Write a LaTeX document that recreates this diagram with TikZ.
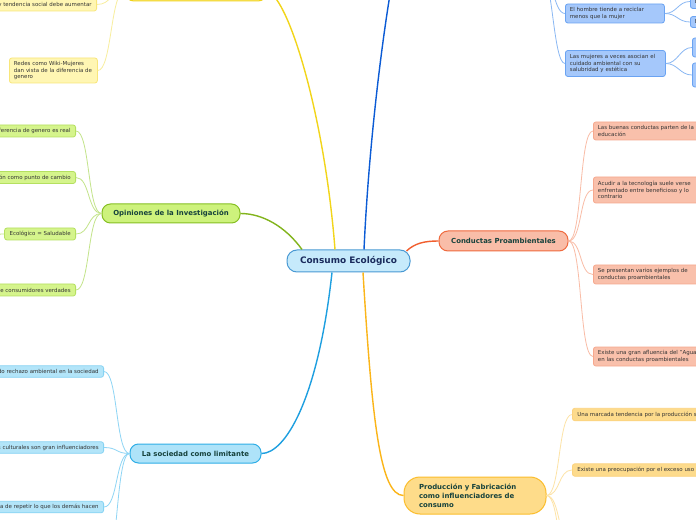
\documentclass[tikz,border=0pt]{standalone}
\usepackage{fontspec}
\setmainfont{DejaVu Sans}
\newdimen\pxu \pxu=0.75pt
\newcommand\kidfont{\fontsize{4.1}{4.75}\selectfont}
\newcommand\mainfont{\fontsize{5.2}{6.5}\selectfont\bfseries}
\newcommand\ctrfont{\fontsize{6.7}{8}\selectfont\bfseries}
\definecolor{kidtext}{HTML}{333333}
\definecolor{maintext}{HTML}{16423C}
\definecolor{ctrtext}{HTML}{1A2B5C}
\definecolor{ctrfill}{HTML}{C6EAFB}\definecolor{ctrdraw}{HTML}{4A9AD4}
\definecolor{gmfill}{HTML}{CDF27C}\definecolor{gmdraw}{HTML}{86BF22}
\definecolor{gkfill}{HTML}{D5F48C}\definecolor{gkdraw}{HTML}{B5E060}
\definecolor{gthick}{HTML}{82B41C}\definecolor{gthinc}{HTML}{C3E48A}
\definecolor{smfill}{HTML}{AEE3F9}\definecolor{smdraw}{HTML}{2FAEE6}
\definecolor{skfill}{HTML}{B3E5F9}\definecolor{skdraw}{HTML}{86D3F3}
\definecolor{sthick}{HTML}{1E9FE0}\definecolor{sthinc}{HTML}{8ED5F5}
\definecolor{bkfill}{HTML}{A5C8FB}\definecolor{bkdraw}{HTML}{6AA3F2}
\definecolor{bthick}{HTML}{0B5BD5}\definecolor{bthinc}{HTML}{8AB8F3}
\definecolor{cmfill}{HTML}{F9BDA8}\definecolor{cmdraw}{HTML}{EF6A3E}
\definecolor{ckfill}{HTML}{F9C0AB}\definecolor{ckdraw}{HTML}{F6A88E}
\definecolor{cthick}{HTML}{F15E2E}\definecolor{cthinc}{HTML}{F9BCA6}
\definecolor{pmfill}{HTML}{FEDC8A}\definecolor{pmdraw}{HTML}{FBBD2C}
\definecolor{pkfill}{HTML}{FDDB8C}\definecolor{pkdraw}{HTML}{FCD27E}
\definecolor{pthick}{HTML}{FBB518}\definecolor{pthinc}{HTML}{FDE3A6}
\definecolor{ymfill}{HTML}{FFF09A}\definecolor{ymdraw}{HTML}{F0D21A}
\definecolor{ykfill}{HTML}{FFF6B3}\definecolor{ykdraw}{HTML}{F8E67A}
\definecolor{ythick}{HTML}{F2D51A}\definecolor{ythinc}{HTML}{F8EE9E}
\tikzset{
  kid/.style={draw, rounded corners=2.5\pxu, line width=0.8\pxu, font=\kidfont,
    align=left, inner xsep=4.5\pxu, inner ysep=0pt, text=kidtext},
  kidline/.style={draw, rounded corners=2.5\pxu, line width=0.8\pxu, font=\kidfont,
    inner xsep=5\pxu, inner ysep=0pt, text=kidtext},
  mainbox/.style={draw, line width=1\pxu, font=\mainfont, text=maintext,
    inner sep=0pt, align=center},
  thick line/.style={line width=1.4\pxu},
  thin line/.style={line width=0.8\pxu},
}
\begin{document}
\begin{tikzpicture}[x=0.75pt,y=-0.75pt]
\useasboundingbox (0,0) rectangle (696,520);
\clip (0,0) rectangle (696,520);
\fill[white] (0,0) rectangle (696,520);

% ---------- main topics ----------
\node[mainbox, font=\ctrfont, text=ctrtext, fill=ctrfill, draw=ctrdraw,
  minimum width=123\pxu, minimum height=22\pxu, rounded corners=10\pxu] (ctr) at (348.5,261) {Consumo Ecológico};
\node[mainbox, fill=gmfill, draw=gmdraw, minimum width=138\pxu, minimum height=19\pxu,
  rounded corners=8.5\pxu] (gm) at (171,213.5) {Opiniones de la Investigación};
\node[mainbox, fill=smfill, draw=smdraw, minimum width=131\pxu, minimum height=19\pxu,
  rounded corners=8.5\pxu] (sm) at (195.5,453.5) {La sociedad como limitante};
\node[mainbox, fill=cmfill, draw=cmdraw, minimum width=129\pxu, minimum height=20\pxu,
  rounded corners=9\pxu] (cm) at (503.5,241) {Conductas Proambientales};
\node[mainbox, fill=pmfill, draw=pmdraw, minimum height=37\pxu, text width=112\pxu,
  inner xsep=15\pxu, align=left, rounded corners=16\pxu, font=\fontsize{5.2}{6.6}\selectfont\bfseries]
  (pm) at (475,495.5) {Producción y Fabricación\\como influenciadores de\\consumo};
\node[mainbox, fill=ymfill, draw=ymdraw, minimum width=142\pxu, minimum height=20\pxu,
  rounded corners=9\pxu] (ym) at (196,-9) {};
\node[mainbox, fill=bkfill, draw=bkdraw, minimum width=145\pxu, minimum height=20\pxu,
  rounded corners=9\pxu] (bm) at (467.5,-30) {};

% ---------- thick connectors ----------
\draw[thick line, ythick] (ctr.north) ++(-13.5,0) coordinate (cy) .. controls (325,120) and (290,0) .. (ym.east);
\draw[thick line, bthick] (ctr.north) ++(15.5,0) coordinate (cb) .. controls (370,120) and (388,0) .. (bm.west);
\draw[thick line, gthick] (ctr.north) ++(-46.5,0) coordinate (cg) .. controls (285,226) and (262,213.5) .. (gm.east);
\draw[thick line, cthick] (ctr.north east) ++(-4,1.5) coordinate (cc) .. controls (415,243) and (425,241) .. (cm.west);
\draw[thick line, sthick] (ctr.south) ++(-16.5,0) coordinate (cs) .. controls (318,400) and (285,453.5) .. (sm.east);
\draw[thick line, pthick] (ctr.south) ++(14.5,0) coordinate (cp) .. controls (372,420) and (380,495.5) .. (pm.west);

% ---------- yellow children ----------
\node[kidline, fill=ykfill, draw=ykdraw, minimum height=13\pxu, anchor=east] (y1) at (97,4.5) {y tendencia social debe aumentar};
\node[kid, fill=ykfill, draw=ykdraw, minimum height=25\pxu, text width=79\pxu, anchor=west] (y2) at (9,70.5) {Redes como Wiki-Mujeres\\dan vista de la diferencia de\\genero};
\foreach \k in {y1,y2}
  \draw[thin line, ythinc] (ym.west) .. controls +(-14,0) and +(14,0) .. (\k.east);

% ---------- green children ----------
\node[kidline, fill=gkfill, draw=gkdraw, minimum height=12\pxu, anchor=east] (g1) at (76,131) {ferencia de genero es real};
\node[kidline, fill=gkfill, draw=gkdraw, minimum height=12\pxu, anchor=east] (g2) at (76,177.5) {ón como punto de cambio};
\node[kidline, fill=gkfill, draw=gkdraw, minimum height=12\pxu, anchor=east] (g3) at (76,234) {Ecológico = Saludable};
\node[kidline, fill=gkfill, draw=gkdraw, minimum height=12\pxu, anchor=east] (g4) at (76,290) {de consumidores verdades};
\foreach \k in {g1,g2,g3,g4}
  \draw[thin line, gthinc] (gm.west) .. controls +(-14,0) and +(14,0) .. (\k.east);
\coordinate (g3k) at (-20,236);
\draw[thin line, gthinc] (g3.west) .. controls +(-8,0) and +(8,0) .. (g3k);

% ---------- sociedad children ----------
\node[kidline, fill=skfill, draw=skdraw, minimum height=11.5\pxu, anchor=east] (s1) at (104,371.5) {do rechazo ambiental en la sociedad};
\node[kidline, fill=skfill, draw=skdraw, minimum height=11.5\pxu, anchor=east] (s2) at (104,447.5) {s culturales son gran influenciadores};
\node[kidline, fill=skfill, draw=skdraw, minimum height=11.5\pxu, anchor=east] (s3) at (104,507) {ua de repetir lo que los demás hacen};
\coordinate (s4) at (104,575);
\foreach \k in {s1,s2,s3}
  \draw[thin line, sthinc] (sm.west) .. controls +(-14,0) and +(14,0) .. (\k.east);
\draw[thin line, sthinc] (sm.west) .. controls +(-14,0) and +(14,0) .. (s4);

% ---------- dark blue children ----------
\node[kid, fill=bkfill, draw=bkdraw, minimum height=19\pxu, text width=90\pxu, anchor=west] (b1) at (565,13.5) {El hombre tiende a reciclar\\menos que la mujer};
\node[kid, fill=bkfill, draw=bkdraw, minimum height=26\pxu, text width=91\pxu, anchor=west] (b2) at (565,63.5) {Las mujeres a veces asocian el\\cuidado ambiental con su\\salubridad y estética};
\foreach \k in {b1,b2}
  \draw[thin line, bthinc] (bm.east) .. controls +(12,0) and +(-12,0) .. (\k.west);
\node[kid, fill=bkfill, draw=bkdraw, minimum height=14\pxu, text width=30\pxu, anchor=west] (b1a) at (690,1.5) {E};
\node[kid, fill=bkfill, draw=bkdraw, minimum height=11\pxu, text width=30\pxu, anchor=west] (b1b) at (690,22) {E};
\node[kid, fill=bkfill, draw=bkdraw, minimum height=19\pxu, text width=30\pxu, anchor=west] (b2a) at (692,47.5) {};
\node[kid, fill=bkfill, draw=bkdraw, minimum height=24\pxu, text width=30\pxu, anchor=west] (b2b) at (692,75) {};
\foreach \k in {b1a,b1b}
  \draw[thin line, bthinc] (b1.east) .. controls +(12,0) and +(-12,0) .. (\k.west);
\foreach \k in {b2a,b2b}
  \draw[thin line, bthinc] (b2.east) .. controls +(12,0) and +(-12,0) .. (\k.west);

% ---------- conductas children ----------
\node[kid, fill=ckfill, draw=ckdraw, minimum height=18\pxu, text width=110\pxu, anchor=west] (c1) at (593,131) {Las buenas conductas parten de la\\educación};
\node[kid, fill=ckfill, draw=ckdraw, minimum height=26\pxu, text width=110\pxu, anchor=west] (c2) at (593,190) {Acudir a la tecnología suele verse\\enfrentado entre beneficioso y lo\\contrario};
\node[kid, fill=ckfill, draw=ckdraw, minimum height=19\pxu, text width=110\pxu, anchor=west] (c3) at (593,274.5) {Se presentan varios ejemplos de\\conductas proambientales};
\node[kid, fill=ckfill, draw=ckdraw, minimum height=19\pxu, text width=110\pxu, anchor=west] (c4) at (593,356.5) {Existe una gran afluencia del "Agua\\en las conductas proambientales};
\foreach \k in {c1,c2,c3,c4}
  \draw[thin line, cthinc] (cm.east) .. controls +(14,0) and +(-14,0) .. (\k.west);

% ---------- produccion children ----------
\node[kidline, fill=pkfill, draw=pkdraw, minimum height=12.5\pxu, anchor=west] (p1) at (572,414.5) {Una marcada tendencia por la producción s};
\node[kidline, fill=pkfill, draw=pkdraw, minimum height=12.5\pxu, anchor=west] (p2) at (572,470) {Existe una preocupación por el exceso uso};
\coordinate (p3) at (572,545);
\coordinate (p4) at (572,580);
\foreach \k in {p1,p2}
  \draw[thin line, pthinc] (pm.east) .. controls +(14,0) and +(-14,0) .. (\k.west);
\draw[thin line, pthinc] (pm.east) .. controls +(14,0) and +(-14,0) .. (p3);
\draw[thin line, pthinc] (pm.east) .. controls +(14,0) and +(-14,0) .. (p4);

\end{tikzpicture}
\end{document}
